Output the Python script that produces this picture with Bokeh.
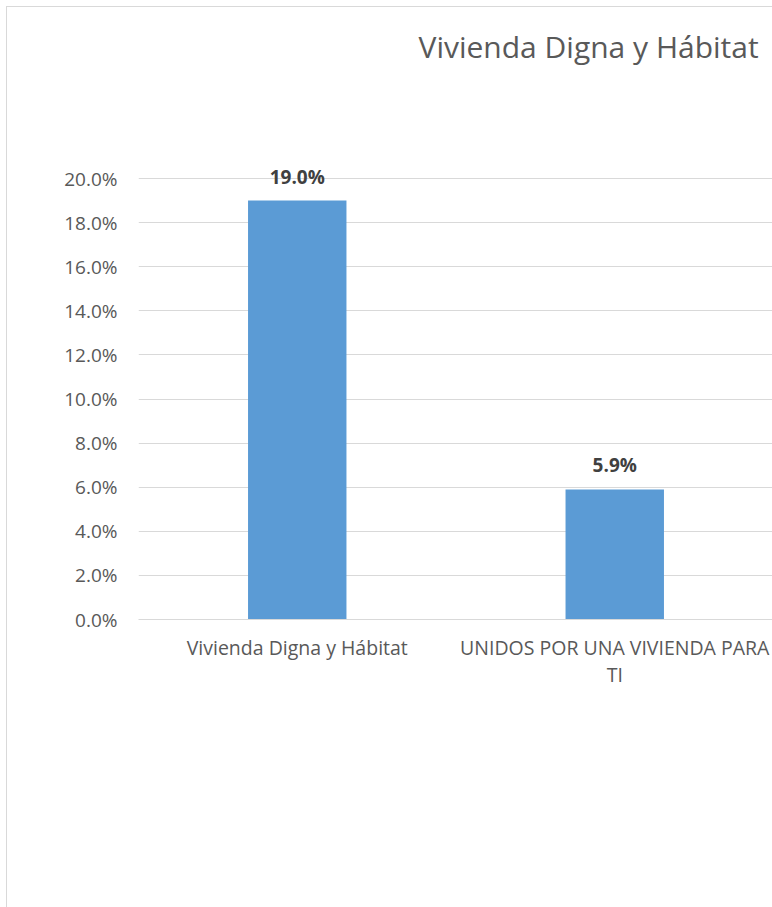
from bokeh.plotting import figure
from bokeh.models import (ColumnDataSource, NumeralTickFormatter, LabelSet,
                          FactorRange, Range1d, FixedTicker)
from bokeh.core.properties import value
from bokeh.embed import file_html
from bokeh.resources import INLINE

# ---- data ----
categories = ["Vivienda Digna y Hábitat", "UNIDOS POR UNA VIVIENDA PARA\nTI"]
values = [0.190, 0.059]
value_labels = ["19.0%", "5.9%"]
y_ticks = [0.00, 0.02, 0.04, 0.06, 0.08, 0.10, 0.12, 0.14, 0.16, 0.18, 0.20]
title_text = "Vivienda Digna y Hábitat"

FONT = "Open Sans"
GREY = "#595959"

src = ColumnDataSource(dict(cat=categories, val=values, lab=value_labels))

p = figure(x_range=FactorRange(*categories, range_padding=0, factor_padding=0),
           y_range=Range1d(0, 0.21),
           width=766, height=901,
           output_backend="svg", toolbar_location=None,
           min_border_left=131, min_border_right=0,
           min_border_bottom=289, min_border_top=149,
           title=title_text)

p.vbar(x="cat", top="val", width=0.31, source=src,
       fill_color="#5B9BD5", line_color=None)

labels = LabelSet(x="cat", y="val", text="lab", source=src,
                  text_align="center", text_baseline="bottom", y_offset=11,
                  text_font=value(FONT), text_font_size="19px",
                  text_font_style="bold", text_color="#404040")
p.add_layout(labels)

# title
p.title.text_font = FONT
p.title.text_font_size = "30px"
p.title.text_font_style = "normal"
p.title.text_color = GREY
p.title.align = "left"
p.title.vertical_align = "top"
p.title.offset = 280
p.title.standoff = 0
p.title.padding = dict(left=0, right=0, top=0, bottom=88)

# axes
p.yaxis.ticker = FixedTicker(ticks=y_ticks)
p.yaxis.formatter = NumeralTickFormatter(format="0.0%")
p.yaxis.axis_line_color = None
p.yaxis.major_tick_line_color = None
p.yaxis.minor_tick_line_color = None
p.yaxis.major_label_standoff = 15
p.yaxis.major_label_text_font = FONT
p.yaxis.major_label_text_font_size = "19px"
p.yaxis.major_label_text_color = GREY

p.xaxis.axis_line_color = "#D9D9D9"
p.xaxis.major_tick_line_color = None
p.xaxis.minor_tick_line_color = None
p.xaxis.major_label_standoff = 8
p.xaxis.major_label_text_font = FONT
p.xaxis.major_label_text_font_size = "19.5px"
p.xaxis.major_label_text_color = GREY
p.xaxis.major_label_text_line_height = 1.0

p.xgrid.grid_line_color = None
p.ygrid.grid_line_color = "#D9D9D9"
p.ygrid.grid_line_width = 1

p.outline_line_color = None
p.background_fill_color = "white"
p.border_fill_color = "white"
p.styles = {"margin-left": "6px", "margin-top": "6px",
            "border-left": "1px solid #D9D9D9", "border-top": "1px solid #D9D9D9"}

open("out.html", "w").write(file_html(p, INLINE))
